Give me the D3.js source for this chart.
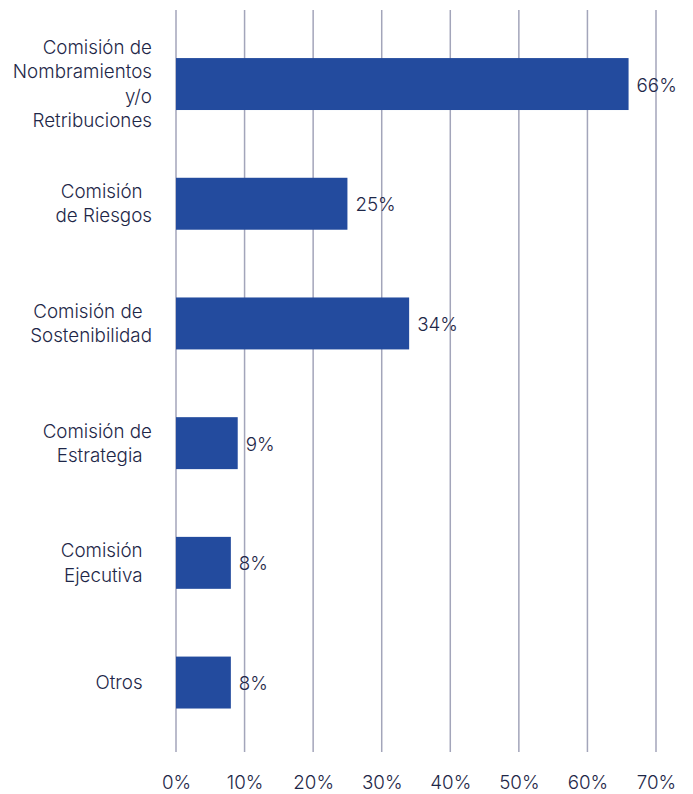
<!DOCTYPE html>
<html><head><meta charset="utf-8">
<script src="https://cdn.jsdelivr.net/npm/d3@7"></script>
<style>
html,body{margin:0;padding:0;background:#fff;}
text{font-family:Inter, "Noto Sans", sans-serif; white-space:pre; font-weight:300;}
</style></head>
<body>
<svg id="chart" width="693" height="794"></svg>
<script>
const categories = [
  ["Comisión de","Nombramientos","y/o","Retribuciones"],
  ["Comisión\u2002","de Riesgos"],
  ["Comisión de\u2002","Sostenibilidad"],
  ["Comisión de","Estrategia\u2002"],
  ["Comisión\u2002","Ejecutiva\u2002"],
  ["Otros\u2002"]
];
const values = [66, 25, 34, 9, 8, 8];
const ticks = [0,10,20,30,40,50,60,70];

const svg = d3.select("#chart");
const textColor = "#1e2748";
const barColor = "#234b9e";
const gridColor = "#a3a5ba";
const fs = "18.8px";

const x = d3.scaleLinear().domain([0,70]).range([176,656]);
const y = d3.scaleBand().domain(d3.range(values.length)).range([24.2,742.4]).paddingInner(0.566).paddingOuter(0.283);

// gridlines
svg.append("g").selectAll("line").data(ticks).join("line")
  .attr("x1", d=>x(d)).attr("x2", d=>x(d))
  .attr("y1", 10).attr("y2", 752)
  .attr("stroke", gridColor).attr("stroke-width", 1.5);

// x axis labels
const xAxis = d3.axisBottom(x).tickValues(ticks).tickFormat(d=>d+"%").tickSize(0).tickPadding(0);
const gx = svg.append("g").attr("transform","translate(0,782)").call(xAxis);
gx.select(".domain").remove();
gx.selectAll("text").attr("fill", textColor).style("font-size",fs).style("font-family",null)
  .attr("dy","0.35em");

// bars
svg.append("g").selectAll("rect").data(values).join("rect")
  .attr("x", x(0)).attr("y", (d,i)=>y(i))
  .attr("width", d=>x(d)-x(0)).attr("height", y.bandwidth())
  .attr("fill", barColor);

// value labels
svg.append("g").selectAll("text").data(values).join("text")
  .attr("x", d=>x(d)+8).attr("y", (d,i)=>y(i)+y.bandwidth()/2+1)
  .attr("dy","0.35em").attr("fill", textColor).style("font-size",fs)
  .text(d=>d+"%");

// category labels
const lh = 24.3;
const gy = svg.append("g");
categories.forEach((lines,i)=>{
  const cy = y(i)+y.bandwidth()/2;
  const t = gy.append("text").attr("text-anchor","end").attr("fill", textColor).style("font-size",fs);
  lines.forEach((l,j)=>{
    t.append("tspan").attr("x",152).attr("y", cy + (j-(lines.length-1)/2)*lh).attr("dy","0.35em").text(l);
  });
});
</script>
</body></html>
